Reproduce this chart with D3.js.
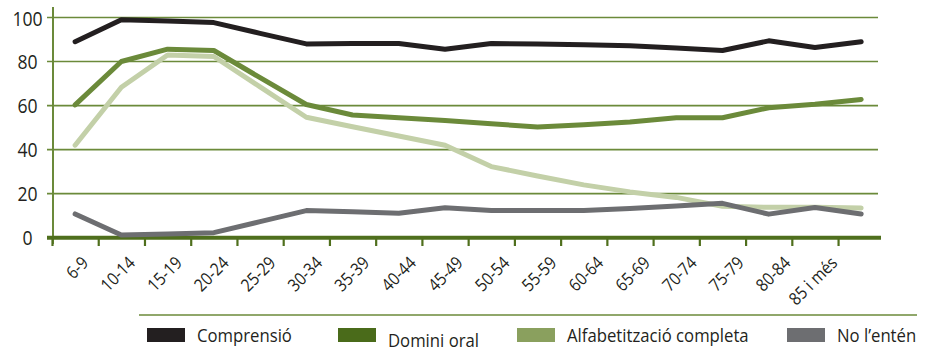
<!DOCTYPE html>
<html>
<head>
<meta charset="utf-8">
<script src="https://cdn.jsdelivr.net/npm/d3@7"></script>
<style>
  body { margin: 0; background: #fff; }
  svg { display: block; }
  text { font-family: "Open Sans", "Noto Sans", sans-serif; fill: #231f20; }
</style>
</head>
<body>
<svg id="chart" width="930" height="351"></svg>
<script>
// Age groups shown on the category axis
const ageGroups = ["6-9", "10-14", "15-19", "20-24", "25-29", "30-34", "35-39", "40-44", "45-49",
                   "50-54", "55-59", "60-64", "65-69", "70-74", "75-79", "80-84", "85 i més"];
const yTicks = [0, 20, 40, 60, 80, 100];
const seriesNames = ["Comprensió", "Domini oral", "Alfabetització completa", "No l’entén"];

// Percentages per age group (one extra trailing point per series)
const comprensio     = [89, 99, 98.4, 97.7, 92.8, 88, 88.2, 88.2, 85.6, 88.2, 88, 87.6, 87.2, 86.2, 85, 89.4, 86.4, 89];
const dominiOral     = [60.3, 80, 85.6, 85, 72.7, 60.5, 55.7, 54.5, 53.2, 51.7, 50.3, 51.3, 52.5, 54.5, 54.5, 59, 60.6, 62.8];
const alfabetitzacio = [42, 68.3, 83, 82.3, 68.5, 54.7, 50.4, 46.2, 42, 32.3, 28, 24, 20.8, 18.3, 14.3, 13.8, 13.8, 13.5];
const noEnten        = [10.8, 1.2, 1.7, 2.3, 7.3, 12.3, 11.8, 11.1, 13.6, 12.4, 12.3, 12.4, 13.3, 14.4, 15.6, 10.7, 13.7, 10.8];

const seriesValues = [comprensio, dominiOral, alfabetitzacio, noEnten];
const lineColors   = ["#231f20", "#6b8a3a", "#c3d0a8", "#6d6e71"];
const swatchColors = ["#231f20", "#4a6b1a", "#8aa05e", "#6d6e71"];

const svg = d3.select("#chart");
const squeeze = 0.88;           // narrow the humanist face a little
const nPoints = comprensio.length;

// Scales
const x = d3.scaleBand().domain(d3.range(nPoints)).range([52, 884.3]).padding(0);
const xEdge = d3.scaleLinear().domain([0, nPoints]).range([52, 884.3]);
const xLabel = d3.scalePoint().domain(ageGroups).range([89, 838]);
const y = d3.scaleLinear().domain([0, 100]).range([237.7, 17.5]);

const green = "#6b8a3a";
const axisGreen = "#4f6f1d";

// Horizontal gridlines
svg.append("g")
  .selectAll("line")
  .data(yTicks.filter(v => v > 0))
  .join("line")
  .attr("x1", 47).attr("x2", 878)
  .attr("y1", d => y(d)).attr("y2", d => y(d))
  .attr("stroke", green).attr("stroke-width", 1.6);

// Vertical value axis
svg.append("line")
  .attr("x1", 53).attr("x2", 53)
  .attr("y1", 7).attr("y2", 244)
  .attr("stroke", green).attr("stroke-width", 2);

// Value axis labels
const yAxis = svg.append("g")
  .attr("transform", "translate(53,0)")
  .call(d3.axisLeft(y).tickValues(yTicks).tickSize(0).tickFormat(d3.format("d")));
yAxis.select(".domain").remove();
yAxis.selectAll("text")
  .attr("x", null).attr("dy", null)
  .attr("text-anchor", "middle")
  .style("font-size", "20px")
  .attr("transform", d => `translate(-25.5, ${7 + (d === 100 ? 1 : 0)}) scale(${squeeze},1)`);

// Category axis tick marks (at band edges)
const xTickAxis = svg.append("g")
  .attr("transform", "translate(0,239)")
  .call(d3.axisBottom(xEdge).tickValues(d3.range(0, nPoints)).tickSize(7).tickFormat(""));
xTickAxis.select(".domain").remove();
xTickAxis.selectAll("line").attr("stroke", axisGreen).attr("stroke-width", 2.2);

// Thick baseline
svg.append("line")
  .attr("x1", 47).attr("x2", 881)
  .attr("y1", y(0)).attr("y2", y(0))
  .attr("stroke", axisGreen).attr("stroke-width", 4);

// Category labels, rotated
const xLabelAxis = svg.append("g")
  .attr("transform", "translate(0,264)")
  .call(d3.axisBottom(xLabel).tickSize(0));
xLabelAxis.select(".domain").remove();
xLabelAxis.selectAll("text")
  .attr("y", 0).attr("dy", 0)
  .attr("text-anchor", "end")
  .style("font-size", "17.5px")
  .attr("transform", `rotate(-45) scale(${squeeze},1)`);

// Series lines
const line = d3.line()
  .x((d, i) => x(i) + x.bandwidth() / 2)
  .y(d => y(d));

svg.append("g")
  .selectAll("path")
  .data(seriesValues)
  .join("path")
  .attr("d", d => line(d))
  .attr("fill", "none")
  .attr("stroke", (d, i) => lineColors[i])
  .attr("stroke-width", 5)
  .attr("stroke-linejoin", "round")
  .attr("stroke-linecap", "round");

// Legend
svg.append("line")
  .attr("x1", 139).attr("x2", 917)
  .attr("y1", 315).attr("y2", 315)
  .attr("stroke", green).attr("stroke-width", 1.5);

const legendX = [147, 338, 517, 787];
const legendDy = [0, 5, 0, 0];
const legend = svg.append("g")
  .selectAll("g")
  .data(seriesNames)
  .join("g")
  .attr("transform", (d, i) => `translate(${legendX[i]},328)`);
legend.append("rect")
  .attr("width", 38).attr("height", 14)
  .attr("fill", (d, i) => swatchColors[i]);
legend.append("text")
  .text(d => d)
  .style("font-size", "19px")
  .attr("transform", (d, i) => `translate(50, ${14 + legendDy[i]}) scale(${squeeze},1)`);
</script>
</body>
</html>
